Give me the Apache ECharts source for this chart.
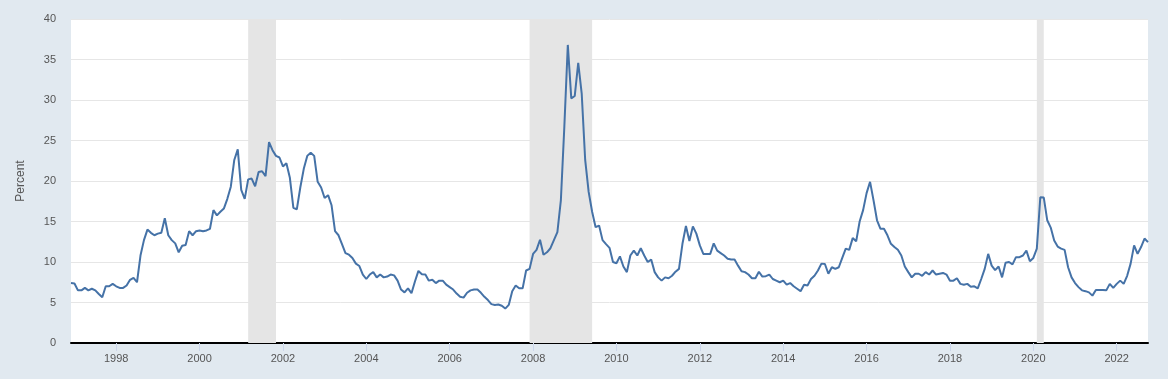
<!DOCTYPE html>
<html><head><meta charset="utf-8">
<script src="https://cdn.jsdelivr.net/npm/echarts@6/dist/echarts.min.js"></script>
<style>html,body{margin:0;padding:0;background:#e1e9f0}#c{width:1168px;height:379px}</style>
</head><body><div id="c"></div>
<script>
// Monthly series, first observation Dec 1996
const startYear = 1996, startMonth = 12;
const values = [
 7.4, 7.35, 6.5, 6.5, 6.8, 6.5, 6.7, 6.5, 6.05, 5.65,
 7.0, 7.0, 7.3, 7.0, 6.8, 6.8, 7.1, 7.8, 8.05, 7.5,
 10.8, 12.7, 14.0, 13.6, 13.3, 13.5, 13.6, 15.4, 13.3, 12.7,
 12.3, 11.2, 12.0, 12.1, 13.8, 13.3, 13.8, 13.9, 13.8, 13.9,
 14.1, 16.4, 15.75, 16.2, 16.6, 17.8, 19.3, 22.6, 23.9, 18.9,
 17.8, 20.2, 20.3, 19.35, 21.1, 21.2, 20.6, 24.8, 23.8, 23.1,
 22.9, 21.8, 22.2, 20.4, 16.7, 16.5, 19.2, 21.5, 23.1, 23.5,
 23.1, 19.9, 19.2, 17.9, 18.25, 17.0, 13.8, 13.3, 12.2, 11.1,
 10.9, 10.5, 9.8, 9.5, 8.45, 7.9, 8.45, 8.75, 8.1, 8.45,
 8.1, 8.2, 8.45, 8.35, 7.7, 6.6, 6.25, 6.75, 6.15, 7.6,
 8.9, 8.5, 8.45, 7.7, 7.8, 7.4, 7.7, 7.7, 7.2, 6.9,
 6.6, 6.1, 5.7, 5.6, 6.2, 6.5, 6.6, 6.6, 6.2, 5.7,
 5.3, 4.8, 4.7, 4.75, 4.6, 4.25, 4.7, 6.4, 7.1, 6.75,
 6.75, 8.95, 9.15, 11.0, 11.5, 12.75, 10.9, 11.2, 11.7, 12.7,
 13.7, 17.6, 26.7, 36.8, 30.2, 30.5, 34.6, 30.8, 22.6, 18.65,
 16.2, 14.3, 14.5, 12.7, 12.2, 11.75, 10.0, 9.85, 10.7, 9.45,
 8.75, 10.8, 11.4, 10.8, 11.7, 10.8, 10.0, 10.3, 8.75, 8.1,
 7.7, 8.1, 8.0, 8.3, 8.8, 9.15, 12.25, 14.45, 12.6, 14.4,
 13.5, 12.05, 11.0, 11.0, 11.0, 12.3, 11.4, 11.1, 10.8, 10.4,
 10.3, 10.3, 9.55, 8.85, 8.75, 8.45, 8.0, 8.0, 8.8, 8.2,
 8.25, 8.45, 7.9, 7.7, 7.5, 7.7, 7.2, 7.4, 7.0, 6.7,
 6.4, 7.2, 7.1, 7.9, 8.3, 8.95, 9.8, 9.75, 8.55, 9.35,
 9.15, 9.35, 10.5, 11.65, 11.5, 12.95, 12.55, 15.0, 16.4, 18.5,
 19.9, 17.6, 15.15, 14.1, 14.1, 13.3, 12.25, 11.85, 11.5, 10.8,
 9.45, 8.75, 8.1, 8.55, 8.55, 8.3, 8.75, 8.45, 8.95, 8.45,
 8.55, 8.65, 8.45, 7.7, 7.7, 8.0, 7.3, 7.2, 7.3, 6.95,
 7.0, 6.75, 7.9, 9.15, 11.0, 9.55, 9.0, 9.45, 8.1, 9.9,
 10.0, 9.7, 10.6, 10.6, 10.8, 11.4, 10.1, 10.5, 11.65, 18.0,
 17.95, 15.15, 14.25, 12.65, 11.9, 11.65, 11.5, 9.35, 8.1, 7.4,
 6.9, 6.5, 6.4, 6.25, 5.85, 6.55, 6.55, 6.55, 6.5, 7.3,
 6.8, 7.3, 7.7, 7.3, 8.3, 9.8, 12.05, 11.0, 11.85, 12.9, 12.45
];
const recessions = [['2001-03', '2001-11'], ['2007-12', '2009-06'], ['2020-02', '2020-04']];
const yMin = 0, yMax = 40, yStep = 5;
const yAxisName = 'Percent';

const categories = values.map((_, i) => {
  const m = startMonth - 1 + i;
  const y = startYear + Math.floor(m / 12);
  const mm = (m % 12) + 1;
  return y + '-' + String(mm).padStart(2, '0');
});
function isTick(idx, val) {
  return val.endsWith('-01') && parseInt(val.slice(0, 4), 10) % 2 === 0;
}
const chart = echarts.init(document.getElementById('c'), null, {renderer: 'canvas'});
chart.setOption({
  backgroundColor: '#e1e9f0',
  animation: false,
  grid: {left: 71, right: 20, top: 19, bottom: 36, show: true, backgroundColor: '#ffffff', borderWidth: 0},
  xAxis: {
    type: 'category', data: categories, boundaryGap: false,
    axisLine: {lineStyle: {color: '#000', width: 2}},
    axisTick: {interval: isTick, length: 8, lineStyle: {color: '#ccd6eb'}},
    axisLabel: {interval: isTick, formatter: v => v.slice(0, 4), color: '#555', fontSize: 11, margin: 10, fontFamily: 'Liberation Sans, Arial, sans-serif'},
    splitLine: {show: false}
  },
  yAxis: {
    type: 'value', min: yMin, max: yMax, interval: yStep,
    name: yAxisName, nameLocation: 'middle', nameGap: 44, nameRotate: 90,
    nameTextStyle: {color: '#555', fontSize: 12, fontFamily: 'Liberation Sans, Arial, sans-serif'},
    axisLabel: {color: '#555', fontSize: 11, margin: 15, fontFamily: 'Liberation Sans, Arial, sans-serif'},
    axisLine: {show: false}, axisTick: {show: false},
    splitLine: {lineStyle: {color: '#e6e6e6', width: 1}}
  },
  series: [{
    type: 'line', data: values, showSymbol: false, symbol: 'none',
    lineStyle: {color: '#4572a7', width: 2},
    markArea: {silent: true, itemStyle: {color: '#e5e5e5'},
      data: recessions.map(r => [{xAxis: r[0]}, {xAxis: r[1]}])}
  }]
});
</script></body></html>
